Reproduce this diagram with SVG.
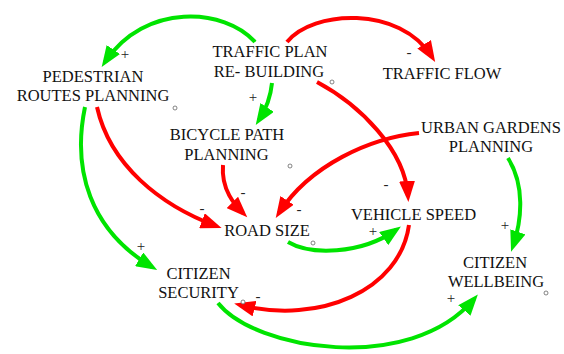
<svg xmlns="http://www.w3.org/2000/svg" width="564" height="354" viewBox="0 0 564 354">
<style>
.lbl{font-family:"Liberation Serif","Times New Roman",serif;font-size:16.5px;fill:#111;text-anchor:middle}
.sg{font-family:"Liberation Serif","Times New Roman",serif;font-size:15px;fill:#222;text-anchor:middle}
.r{fill:none;stroke:#ff0000;stroke-width:4}
.g{fill:none;stroke:#00e400;stroke-width:4}
.dot{fill:#fff;stroke:#666;stroke-width:0.8}
</style>
<defs>
<marker id="ar" markerUnits="userSpaceOnUse" markerWidth="22" markerHeight="16" refX="15" refY="8" orient="auto"><path d="M0,0 L21,8 L0,16 z" fill="#ff0000"/></marker>
<marker id="ag" markerUnits="userSpaceOnUse" markerWidth="22" markerHeight="16" refX="15" refY="8" orient="auto"><path d="M0,0 L21,8 L0,16 z" fill="#00e400"/></marker>
</defs>
<rect width="564" height="354" fill="#fff"/>
<g id="connectors">
<path class="g" marker-end="url(#ag)" d="M255,42 C225,8 145,2 105,62"/>
<path class="r" marker-end="url(#ar)" d="M287,42 C312,10 400,5 432,57"/>
<path class="g" marker-end="url(#ag)" d="M272,83 Q270,103 259,120"/>
<path class="r" marker-end="url(#ar)" d="M317,82 C360,105 405,150 408,196"/>
<path class="r" marker-end="url(#ar)" d="M419,133 C370,138 310,165 279,213"/>
<path class="r" marker-end="url(#ar)" d="M223,165 C221,190 235,205 243,213"/>
<path class="r" marker-end="url(#ar)" d="M97,107 C110,165 160,205 216,226"/>
<path class="g" marker-end="url(#ag)" d="M85,107 C72,170 90,230 152,267"/>
<path class="g" marker-end="url(#ag)" d="M288,242 C310,255 360,255 396,230"/>
<path class="r" marker-end="url(#ar)" d="M409,225 C400,290 320,325 240,305"/>
<path class="g" marker-end="url(#ag)" d="M508,158 C525,185 522,220 513,246"/>
<path class="g" marker-end="url(#ag)" d="M218,303 C255,350 410,375 474,299"/>
<text class="sg" x="125" y="59">+</text>
<text class="sg" x="409" y="57">-</text>
<text class="sg" x="253" y="102">+</text>
<text class="sg" x="386" y="189">-</text>
<text class="sg" x="299" y="214">-</text>
<text class="sg" x="243" y="197">-</text>
<text class="sg" x="202" y="213">-</text>
<text class="sg" x="141" y="251">+</text>
<text class="sg" x="373" y="236">+</text>
<text class="sg" x="258" y="301">-</text>
<text class="sg" x="505" y="230">+</text>
<text class="sg" x="451" y="303">+</text>
</g>
<g id="traffic-plan"><text class="lbl" x="270" y="57">TRAFFIC PLAN</text><text class="lbl" x="269" y="77">RE- BUILDING</text><circle class="dot" cx="332" cy="82" r="2"/></g>
<g id="traffic-flow"><text class="lbl" x="442" y="79">TRAFFIC FLOW</text></g>
<g id="pedestrian"><text class="lbl" x="93" y="82">PEDESTRIAN</text><text class="lbl" x="93" y="101">ROUTES PLANNING</text><circle class="dot" cx="175" cy="108" r="2"/></g>
<g id="bicycle"><text class="lbl" x="227" y="140">BICYCLE PATH</text><text class="lbl" x="226.5" y="160">PLANNING</text><circle class="dot" cx="290" cy="166" r="2"/></g>
<g id="urban-gardens"><text class="lbl" x="491" y="133">URBAN GARDENS</text><text class="lbl" x="491" y="152">PLANNING</text></g>
<g id="road-size"><text class="lbl" x="267" y="236">ROAD SIZE</text><circle class="dot" cx="313" cy="243" r="2"/></g>
<g id="vehicle-speed"><text class="lbl" x="413.5" y="220">VEHICLE SPEED</text></g>
<g id="citizen-security"><text class="lbl" x="198.5" y="279">CITIZEN</text><text class="lbl" x="198.5" y="298">SECURITY</text><circle class="dot" cx="243" cy="302" r="2"/></g>
<g id="citizen-wellbeing"><text class="lbl" x="495" y="268">CITIZEN</text><text class="lbl" x="496" y="287">WELLBEING</text><circle class="dot" cx="546" cy="293" r="2"/></g>
</svg>
